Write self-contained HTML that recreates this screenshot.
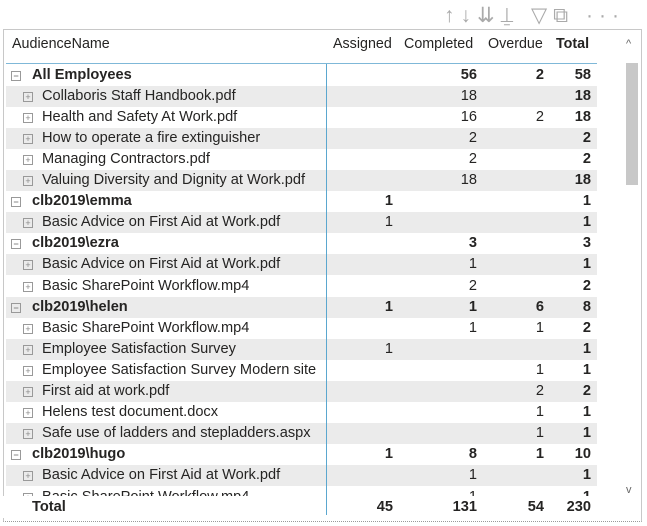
<!DOCTYPE html>
<html><head><style>
body{margin:0;width:647px;height:526px;background:#fff;font-family:"Liberation Sans",sans-serif;color:#252423;position:relative;overflow:hidden}
.a{position:absolute;white-space:nowrap}
.row{position:absolute;left:6px;width:591px;height:21.1px;font-size:14.6px;line-height:21px}
.g{background:#ebebeb}
.row span{position:absolute;top:0}
.b{font-weight:bold}
.ic{position:absolute;top:6px;width:8px;height:8px;border:1px solid #999;font-size:9px;line-height:8px;text-align:center;color:#888}
.c1{right:204px}.c2{right:120px}.c3{right:53px}.c4{right:6px;font-weight:bold}
.hd{position:absolute;top:36px;font-size:14.3px;color:#252423}
</style></head><body>
<div class="a" style="left:3px;top:29px;width:637px;height:491px;border:1px solid #c8c8c8;border-bottom:1px dotted #999"></div>
<div class="a" style="left:444px;top:3px;font-size:21px;color:#aaa;letter-spacing:6px">↑↓⇊⍊ ▽⧉ ···</div>
<div class="hd" style="left:12px">AudienceName</div>
<div class="hd" style="left:333px">Assigned</div>
<div class="hd" style="left:404px">Completed</div>
<div class="hd" style="left:488px">Overdue</div>
<div class="hd b" style="left:556px">Total</div>
<div class="a" style="left:6px;top:63px;width:591px;height:1px;background:#7fb8d8"></div>
<div id="rows"></div>
<div class="a" style="left:326px;top:64px;width:1px;height:451px;background:#5ba7cf;z-index:2"></div>
<div class="a" style="left:626px;top:63px;width:12px;height:122px;background:#c8c8c8"></div>
<div class="a" style="left:626px;top:38px;font-size:11px;color:#666">^</div>
<div class="a" style="left:626px;top:484px;font-size:11px;color:#666">v</div>
<div class="a" style="left:0;top:496px;width:640px;height:22px;background:#fff;z-index:1"></div>
<div class="row b" style="top:496.5px;z-index:3"><span style="left:26px">Total</span><span class="c1">45</span><span class="c2">131</span><span class="c3">54</span><span class="c4">230</span></div>
<script>
var d=[["All Employees",1,"","56","2","58"],["Collaboris Staff Handbook.pdf",0,"","18","","18"],["Health and Safety At Work.pdf",0,"","16","2","18"],["How to operate a fire extinguisher",0,"","2","","2"],["Managing Contractors.pdf",0,"","2","","2"],["Valuing Diversity and Dignity at Work.pdf",0,"","18","","18"],["clb2019\\emma",1,"1","","","1"],["Basic Advice on First Aid at Work.pdf",0,"1","","","1"],["clb2019\\ezra",1,"","3","","3"],["Basic Advice on First Aid at Work.pdf",0,"","1","","1"],["Basic SharePoint Workflow.mp4",0,"","2","","2"],["clb2019\\helen",1,"1","1","6","8"],["Basic SharePoint Workflow.mp4",0,"","1","1","2"],["Employee Satisfaction Survey",0,"1","","","1"],["Employee Satisfaction Survey Modern site",0,"","","1","1"],["First aid at work.pdf",0,"","","2","2"],["Helens test document.docx",0,"","","1","1"],["Safe use of ladders and stepladders.aspx",0,"","","1","1"],["clb2019\\hugo",1,"1","8","1","10"],["Basic Advice on First Aid at Work.pdf",0,"","1","","1"],["Basic SharePoint Workflow.mp4",0,"","1","","1"]];
var h="";d.forEach(function(r,i){var p=r[1];h+='<div class="row'+(i%2?' g':'')+(p?' b':'')+'" style="top:'+(64.5+21.1*i)+'px"><div class="ic" style="left:'+(p?5:17)+'px">'+(p?'−':'+')+'</div><span style="left:'+(p?26:36)+'px">'+r[0]+'</span><span class="c1">'+r[2]+'</span><span class="c2">'+r[3]+'</span><span class="c3">'+r[4]+'</span><span class="c4">'+r[5]+'</span></div>';});
document.getElementById("rows").innerHTML=h;
</script>
</body></html>
